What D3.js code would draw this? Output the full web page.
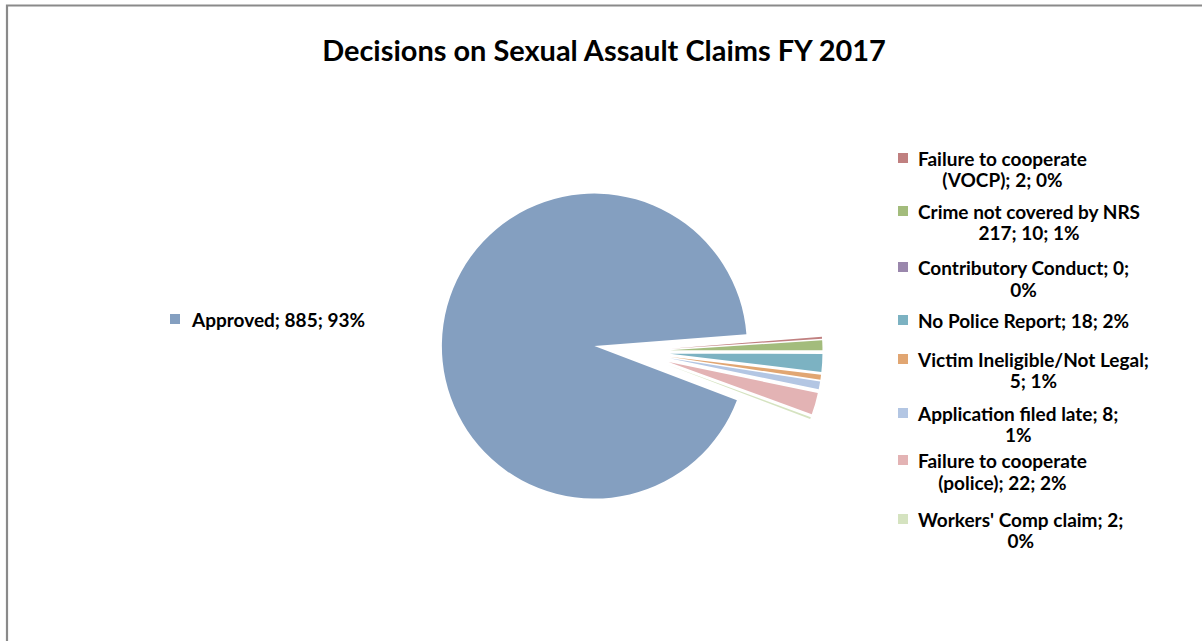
<!DOCTYPE html>
<html>
<head>
<meta charset="utf-8">
<script src="https://cdn.jsdelivr.net/npm/d3@7"></script>
<style>
  html, body { margin: 0; padding: 0; background: #fff; }
  svg { display: block; }
  text { font-family: Lato, "Noto Sans", sans-serif; font-weight: 700; fill: #000; }
</style>
</head>
<body>
<svg id="chart" width="1202" height="641"></svg>
<script>
// ---- data ----
const chartTitle = "Decisions on Sexual Assault Claims FY 2017";
const categories = [
  "Failure to cooperate (VOCP)",
  "Crime not covered by NRS 217",
  "Contributory Conduct",
  "No Police Report",
  "Victim Ineligible/Not Legal",
  "Application filed late",
  "Failure to cooperate (police)",
  "Workers' Comp claim",
  "Approved"
];
const values = [2, 10, 0, 18, 5, 8, 22, 2, 885];
const colors = ["#C08080", "#A3BC7C", "#9A87AC", "#7CB2C2", "#E1A672", "#B3C6E3", "#E3B3B4", "#D5E3C0", "#849FC0"];
// number of words on the first line of each wrapped label (0 = no wrap)
const firstLineWords = [3, 5, 3, 0, 3, 4, 3, 4, 0];

// ---- layout ----
const W = 1202, H = 641;
const svg = d3.select("#chart");
const cx = 632, cy = 351.5, radius = 152.5, explode = 38;
const startDeg = 85.5;

// frame (clipped at right/bottom like the reference)
svg.append("path")
  .attr("d", `M7,${H} L7,5.5 L${W},5.5`)
  .attr("fill", "none").attr("stroke", "#8a8a8a").attr("stroke-width", 2.2);

// title
const title = svg.append("text").attr("text-anchor", "middle")
  .attr("x", 604).attr("y", 61).attr("font-size", 28).text(chartTitle);
const tw = title.node().getComputedTextLength();
title.attr("font-size", 28 * 564 / tw);

// pie
const total = d3.sum(values);
const pct = d3.format(".0%");
const pie = d3.pie().sort(null).value(d => d)
  .startAngle(startDeg * Math.PI / 180)
  .endAngle(startDeg * Math.PI / 180 + 2 * Math.PI);
const arcs = pie(values);
const arc = d3.arc().innerRadius(0).outerRadius(radius);

const g = svg.append("g").attr("transform", `translate(${cx},${cy})`);
g.selectAll("path").data(arcs).enter().append("path")
  .attr("d", arc)
  .attr("fill", (d, i) => colors[i])
  .attr("transform", d => {
    const m = (d.startAngle + d.endAngle) / 2;
    return `translate(${explode * Math.sin(m)},${-explode * Math.cos(m)})`;
  });

// labels
const labelText = categories.map((c, i) => `${c}; ${values[i]}; ${pct(values[i] / total)}`);
function splitLines(t, n) {
  const w = t.split(" ");
  if (!n || n >= w.length) return [t];
  return [w.slice(0, n).join(" "), w.slice(n).join(" ")];
}

// font size scaled to match reference text widths
const probe = svg.append("text").attr("font-size", 20).text("Failure to cooperate");
const fs = 20 * 169 / probe.node().getComputedTextLength();
probe.remove();

const labelX = 918;
const baselines = [[166, 187], [219, 240], [275, 297], [328], [367, 388], [421, 442], [468, 490], [527, 548], [327]];
const sqSize = 10;

categories.forEach((c, i) => {
  const lines = splitLines(labelText[i], firstLineWords[i]);
  const x0 = i === 8 ? 192 : labelX;
  const first = svg.append("text").attr("x", x0).attr("y", baselines[i][0])
    .attr("font-size", fs).text(lines[0]);
  const w0 = first.node().getComputedTextLength();
  if (lines.length > 1) {
    svg.append("text").attr("x", x0 + w0 / 2).attr("y", baselines[i][1])
      .attr("text-anchor", "middle").attr("font-size", fs).text(lines[1]);
  }
  svg.append("rect")
    .attr("x", i === 8 ? 170 : 898)
    .attr("y", baselines[i][0] - 13)
    .attr("width", sqSize).attr("height", sqSize)
    .attr("fill", colors[i]);
});
</script>
</body>
</html>
